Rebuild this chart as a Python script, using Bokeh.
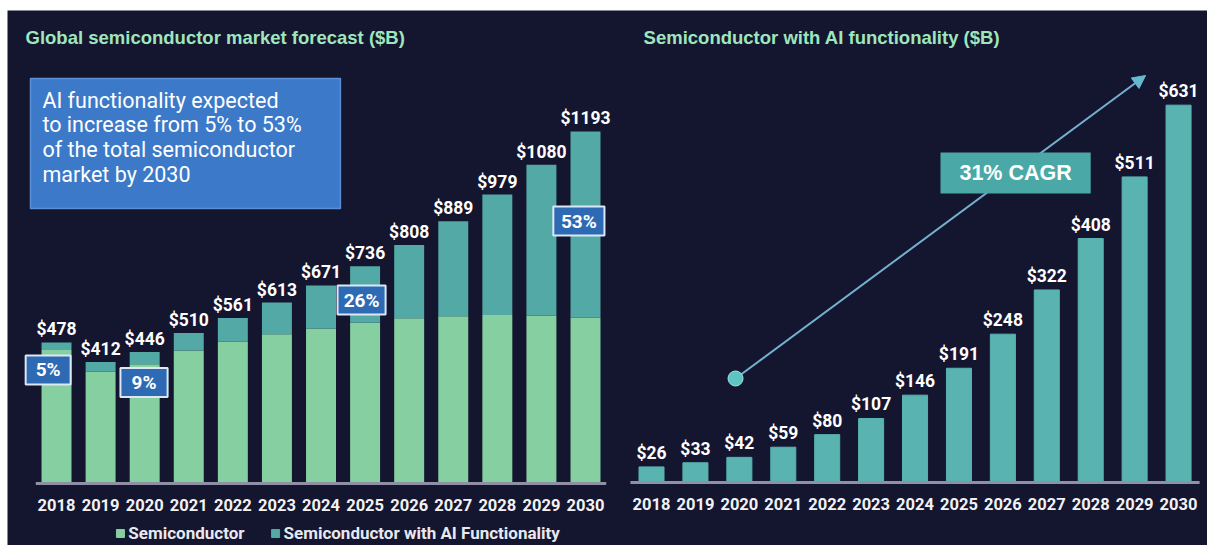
from bokeh.plotting import figure
from bokeh.layouts import row, column, Spacer
from bokeh.models import Range1d, Arrow, NormalHead, ColumnDataSource
from bokeh.core.properties import value
from bokeh.embed import file_html
from bokeh.resources import INLINE

# ---------------- data ----------------
years = [2018, 2019, 2020, 2021, 2022, 2023, 2024, 2025, 2026, 2027, 2028, 2029, 2030]
total_market = [478, 412, 446, 510, 561, 613, 671, 736, 808, 889, 979, 1080, 1193]
ai_market = [26, 33, 42, 59, 80, 107, 146, 191, 248, 322, 408, 511, 631]
series_names = ["Semiconductor", "Semiconductor with AI Functionality"]
pct_labels = ["5%", "9%", "26%", "53%"]
left_title = "Global semiconductor market forecast ($B)"
right_title = "Semiconductor with AI functionality ($B)"
info_lines = ["AI functionality expected", "to increase from 5% to 53%",
              "of the total semiconductor", "market by 2030"]
cagr_label = "31% CAGR"

non_ai_market = [t - a for t, a in zip(total_market, ai_market)]

# ---------------- style ----------------
BG = "#14152f"
GREEN = "#86cfa0"
TEAL_L = "#53a9a5"
TEAL_R = "#59b3b0"
AXIS = "#8f90a6"
TITLE_C = "#9fe6bd"
LBL = "Roboto"
SANS = "Liberation Sans"
W, H = 1200, 535

# one canvas; left panel uses the default ranges, right panel uses extra ranges
p = figure(width=W, height=H, x_range=Range1d(2016.888, 2044.11),
           y_range=Range1d(-210.1, 1602.8),
           output_backend="svg", toolbar_location=None, min_border=0,
           x_axis_location=None, y_axis_location=None)
p.extra_x_ranges = {"r": Range1d(2003.337, 2030.659)}
p.extra_y_ranges = {"r": Range1d(-105.4, 789.3)}
p.grid.visible = False
p.outline_line_color = None
p.background_fill_color = BG
p.border_fill_color = BG

# ---------------- left chart ----------------
src = ColumnDataSource(dict(year=years, base=non_ai_market, ai=ai_market,
                            total=total_market,
                            lbl=["$%d" % v for v in total_market],
                            ylbl=[str(y) for y in years]))
p.vbar_stack(["base", "ai"], x="year", width=0.68, color=[GREEN, TEAL_L],
             source=src, line_width=0)
p.segment(x0=[years[0] - 0.47], y0=[0], x1=[years[-1] + 0.47], y1=[0],
          line_color=AXIS, line_width=3)
p.text(x="year", y="total", text="lbl", source=src, text_align="center",
       text_baseline="bottom", y_offset=-3, text_color="white",
       text_font=value(LBL), text_font_size="17.5px", text_font_style="bold")
p.text(x="year", y=0, text="ylbl", source=src, text_align="center",
       text_baseline="middle", y_offset=22, text_color="#f2f2f4",
       text_font=value(LBL), text_font_size="16.5px", text_font_style="bold")

p.text(x=[2017.297], y=[1511], text=[left_title], text_align="left",
       text_baseline="middle", text_color=TITLE_C, text_font=value(SANS),
       text_font_size="18.5px", text_font_style="bold")

p.rect(x=[2020.925], y=[1152], width=[7.03], height=[440.5],
       fill_color="#3c79c8", line_color="#5b90d6", line_width=1.5)
p.text(x=[2017.68] * 4, y=[1298, 1216.5, 1131.8, 1047], text=info_lines,
       text_align="left", text_baseline="middle", text_color="white",
       text_font=value(LBL), text_font_size="21.5px")

pct_x = [2017.81, 2019.985, 2024.92, 2029.85]
pct_y = [384.6, 342.3, 621.8, 889.5]
p.rect(x=pct_x, y=pct_y, width=[1.02, 1.07, 1.09, 1.16], height=98.3,
       fill_color="#2e6ab4", line_color="#dce8f6", line_width=2)
p.text(x=pct_x, y=pct_y, text=pct_labels, text_align="center",
       text_baseline="middle", text_color="white", text_font=value(LBL),
       text_font_size="19px", text_font_style="bold")

p.scatter(x=[2019.45, 2022.97], y=[-169.4, -169.4], marker="square", size=8,
          color=[GREEN, TEAL_L])
p.text(x=[2019.63, 2023.15], y=[-169.4, -169.4], text=series_names,
       text_align="left", text_baseline="middle", text_color="#e8e8f0",
       text_font=value(LBL), text_font_size="17px", text_font_style="bold")

# ---------------- right chart ----------------
R = dict(x_range_name="r", y_range_name="r")
rsrc = ColumnDataSource(dict(year=years, ai=ai_market,
                             lbl=["$%d" % v for v in ai_market],
                             ylbl=[str(y) for y in years]))
p.add_layout(Arrow(end=NormalHead(size=13, fill_color="#66b9cf",
                                  line_color="#66b9cf"),
                   x_start=2019.913, y_start=173.9, x_end=2029.25, y_end=680.6,
                   line_color="#74b0cf", line_width=2, level="underlay", **R))
p.vbar(x="year", top="ai", width=0.57, color=TEAL_R, source=rsrc, **R)
p.segment(x0=[years[0] - 0.48], y0=[0], x1=[years[-1] + 0.48], y1=[0],
          line_color=AXIS, line_width=3, **R)
p.text(x="year", y="ai", text="lbl", source=rsrc, text_align="center",
       text_baseline="bottom", y_offset=-4, text_color="white",
       text_font=value(LBL), text_font_size="17.5px", text_font_style="bold", **R)
p.text(x="year", y=0, text="ylbl", source=rsrc, text_align="center",
       text_baseline="middle", y_offset=22, text_color="#f2f2f4",
       text_font=value(LBL), text_font_size="16.5px", text_font_style="bold", **R)
p.text(x=[2017.82], y=[744], text=[right_title], text_align="left",
       text_baseline="middle", text_color=TITLE_C, text_font=value(SANS),
       text_font_size="18.5px", text_font_style="bold", **R)
p.scatter(x=[2019.913], y=[173.9], size=15, fill_color="#5cc5c3",
          line_color="#a6e2e2", line_width=1, **R)
p.rect(x=[2026.29], y=[517.6], width=[3.42], height=[68.6],
       fill_color="#4aa8a6", line_color=None, **R)
p.text(x=[2026.29], y=[517.6], text=[cagr_label], text_align="center",
       text_baseline="middle", text_color="white", text_font=value(SANS),
       text_font_size="21.5px", text_font_style="bold", **R)

layout = column(Spacer(width=1207, height=10),
                row(Spacer(width=7, height=H), p, spacing=0),
                spacing=0)
open("out.html", "w").write(file_html(layout, INLINE))
